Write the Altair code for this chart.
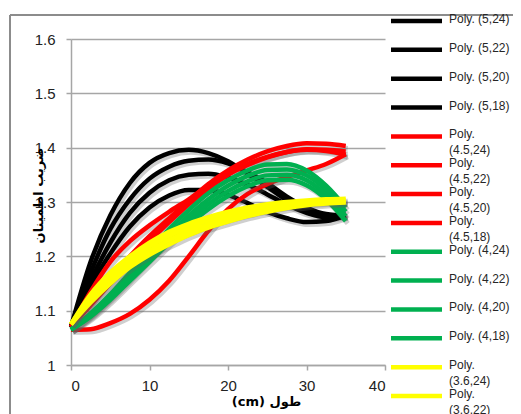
import altair as alt
import pandas as pd

# ---- data ----
x_cm = [0, 2.5, 5, 7.5, 10, 12.5, 15, 17.5, 20, 22.5, 25, 27.5, 30, 32.5, 35]

poly_5_24 = [1.07, 1.19, 1.275, 1.335, 1.372, 1.39, 1.396, 1.39, 1.375, 1.352, 1.328, 1.303, 1.285, 1.275, 1.278]
poly_5_22 = [1.07, 1.17, 1.25, 1.305, 1.343, 1.365, 1.376, 1.378, 1.371, 1.355, 1.335, 1.31, 1.29, 1.278, 1.275]
poly_5_20 = [1.07, 1.155, 1.225, 1.28, 1.317, 1.34, 1.35, 1.352, 1.345, 1.332, 1.314, 1.295, 1.28, 1.272, 1.275]
poly_5_18 = [1.07, 1.145, 1.205, 1.255, 1.29, 1.312, 1.322, 1.322, 1.313, 1.298, 1.282, 1.27, 1.263, 1.265, 1.275]

poly_45_24 = [1.07, 1.115, 1.16, 1.2, 1.237, 1.27, 1.302, 1.333, 1.358, 1.378, 1.393, 1.403, 1.408, 1.407, 1.403]
poly_45_22 = [1.07, 1.135, 1.19, 1.228, 1.257, 1.282, 1.305, 1.33, 1.352, 1.37, 1.383, 1.392, 1.396, 1.394, 1.387]
poly_45_20 = [1.07, 1.11, 1.15, 1.19, 1.228, 1.263, 1.296, 1.325, 1.35, 1.368, 1.382, 1.392, 1.397, 1.396, 1.393]
poly_45_18 = [1.065, 1.066, 1.077, 1.094, 1.12, 1.155, 1.2, 1.247, 1.287, 1.315, 1.333, 1.346, 1.358, 1.37, 1.388]

poly_4_24 = [1.065, 1.095, 1.13, 1.17, 1.21, 1.25, 1.285, 1.316, 1.34, 1.358, 1.369, 1.37, 1.358, 1.33, 1.29]
poly_4_22 = [1.065, 1.093, 1.127, 1.165, 1.203, 1.24, 1.275, 1.305, 1.33, 1.348, 1.359, 1.36, 1.349, 1.322, 1.282]
poly_4_20 = [1.065, 1.091, 1.124, 1.16, 1.197, 1.232, 1.266, 1.296, 1.32, 1.338, 1.349, 1.35, 1.34, 1.313, 1.274]
poly_4_18 = [1.065, 1.089, 1.12, 1.155, 1.19, 1.225, 1.258, 1.287, 1.311, 1.329, 1.34, 1.341, 1.331, 1.305, 1.265]

poly_36_24 = [1.075, 1.13, 1.17, 1.2, 1.225, 1.245, 1.26, 1.272, 1.282, 1.29, 1.296, 1.3, 1.303, 1.305, 1.306]
poly_36_22 = [1.075, 1.125, 1.165, 1.195, 1.218, 1.238, 1.253, 1.266, 1.276, 1.284, 1.291, 1.296, 1.3, 1.302, 1.303]
poly_36_20 = [1.075, 1.12, 1.158, 1.187, 1.21, 1.23, 1.246, 1.259, 1.27, 1.279, 1.287, 1.293, 1.297, 1.3, 1.301]
poly_36_18 = [1.075, 1.115, 1.15, 1.18, 1.203, 1.222, 1.239, 1.253, 1.264, 1.274, 1.282, 1.289, 1.294, 1.297, 1.299]

series_names = [
    "Poly. (5,24)", "Poly. (5,22)", "Poly. (5,20)", "Poly. (5,18)",
    "Poly. (4.5,24)", "Poly. (4.5,22)", "Poly. (4.5,20)", "Poly. (4.5,18)",
    "Poly. (4,24)", "Poly. (4,22)", "Poly. (4,20)", "Poly. (4,18)",
    "Poly. (3.6,24)", "Poly. (3.6,22)", "Poly. (3.6,20)", "Poly. (3.6,18)",
]
series_values = [
    poly_5_24, poly_5_22, poly_5_20, poly_5_18,
    poly_45_24, poly_45_22, poly_45_20, poly_45_18,
    poly_4_24, poly_4_22, poly_4_20, poly_4_18,
    poly_36_24, poly_36_22, poly_36_20, poly_36_18,
]
series_groups = ["5"] * 4 + ["4.5"] * 4 + ["4"] * 4 + ["3.6"] * 4
series_colors = ["#000000"] * 4 + ["#FF0000"] * 4 + ["#00B050"] * 4 + ["#FFFF00"] * 4
y_ticks = [1.0, 1.1, 1.2, 1.3, 1.4, 1.5, 1.6]
x_ticks = [0, 10, 20, 30, 40]

x_title = "\u202bطول (cm)\u202c"
y_title = "ضریب اطمینان"

# ---- tables ----
rows = []
for name, grp, vals in zip(series_names, series_groups, series_values):
    for xv, yv in zip(x_cm, vals):
        rows.append({"series": name, "group": grp, "x": xv, "y": yv})
df = pd.DataFrame(rows)

legend_df = pd.DataFrame({
    "series": series_names,
    "label": [n.replace(" ", "\n") if len(n) > 12 else n for n in series_names],
    "idx": list(range(len(series_names))),
})

GREY = "#A6A6A6"
color_scale = alt.Scale(domain=series_names, range=series_colors)

x_enc = alt.X(
    "x:Q",
    scale=alt.Scale(domain=[0, 40], nice=False),
    axis=alt.Axis(
        values=x_ticks, grid=False, domainColor=GREY, domainWidth=1.5,
        tickColor=GREY, tickWidth=1.5, tickSize=5, labelFontSize=15,
        labelFont="Liberation Sans", labelColor="#222222", labelPadding=8,
        title=x_title, titleFont="DejaVu Sans", titleFontSize=13,
        titleFontWeight="bold", titleColor="#000000", titleX=195, titleY=36,
        titleBaseline="middle", titleAlign="center",
    ),
)
y_enc = alt.Y(
    "y:Q",
    scale=alt.Scale(domain=[1, 1.6], nice=False, zero=False),
    axis=alt.Axis(
        values=y_ticks, format=".1~f", grid=True, gridColor=GREY, gridWidth=1.5,
        domainColor=GREY, domainWidth=1.5, tickColor=GREY, tickWidth=1.5,
        tickSize=5, labelFontSize=15, labelFont="Liberation Sans",
        labelColor="#222222", labelPadding=11,
        title=y_title, titleFont="DejaVu Sans", titleFontSize=13,
        titleFontWeight="bold", titleColor="#000000", titleX=-33, titleY=156,
        titleBaseline="middle", titleAlign="center", titleAngle=-90,
    ),
)

# chart-area frame: left and top edges (the rest lies outside the page)
frame_left = alt.Chart(df).mark_rule(color="#8C8C8C", strokeWidth=1.5).encode(
    x=alt.value(-61), y=alt.value(-24), y2=alt.value(420)
)
frame_top = alt.Chart(df).mark_rule(color="#8C8C8C", strokeWidth=1.5).encode(
    x=alt.value(-61), x2=alt.value(480), y=alt.value(-24)
)

main_layers = [frame_left, frame_top]
for g in ["5", "4.5", "4", "3.6"]:
    base = alt.Chart(df).transform_filter(alt.datum.group == g)
    shadow = base.mark_line(
        color="#606060", opacity=0.3, strokeWidth=5, xOffset=2, yOffset=2.5,
        interpolate="monotone",
    ).encode(x=x_enc, y=y_enc, detail="series:N")
    line = base.mark_line(strokeWidth=4.5, interpolate="monotone").encode(
        x=x_enc, y=y_enc,
        color=alt.Color("series:N", scale=color_scale, legend=None),
    )
    main_layers += [shadow, line]
main = alt.layer(*main_layers)

leg_y = alt.Y("idx:Q", scale=alt.Scale(domain=[0, 13], range=[-18, 357], nice=False, zero=False), axis=None)
leg_base = alt.Chart(legend_df)
leg_rules = leg_base.mark_rule(strokeWidth=4.5).encode(
    x=alt.value(320), x2=alt.value(371), y=leg_y,
    color=alt.Color("series:N", scale=color_scale, legend=None),
)
leg_text = leg_base.mark_text(
    align="left", baseline="top", dy=-7, lineBreak="\n", lineHeight=16,
    fontSize=12, font="Liberation Sans", color="#262626",
).encode(x=alt.value(378), y=leg_y, text="label:N")
legend = alt.layer(leg_rules, leg_text)

chart = alt.layer(main, legend).resolve_scale(
    y="independent", x="independent"
).properties(
    width=314, height=326,
    autosize=alt.AutoSizeParams(type="none"),
    padding={"left": 63, "top": 31, "right": 128, "bottom": 60},
    background="white",
).configure_view(stroke=None)

chart.save("out.html", embed_options={"renderer": "svg", "actions": False})
